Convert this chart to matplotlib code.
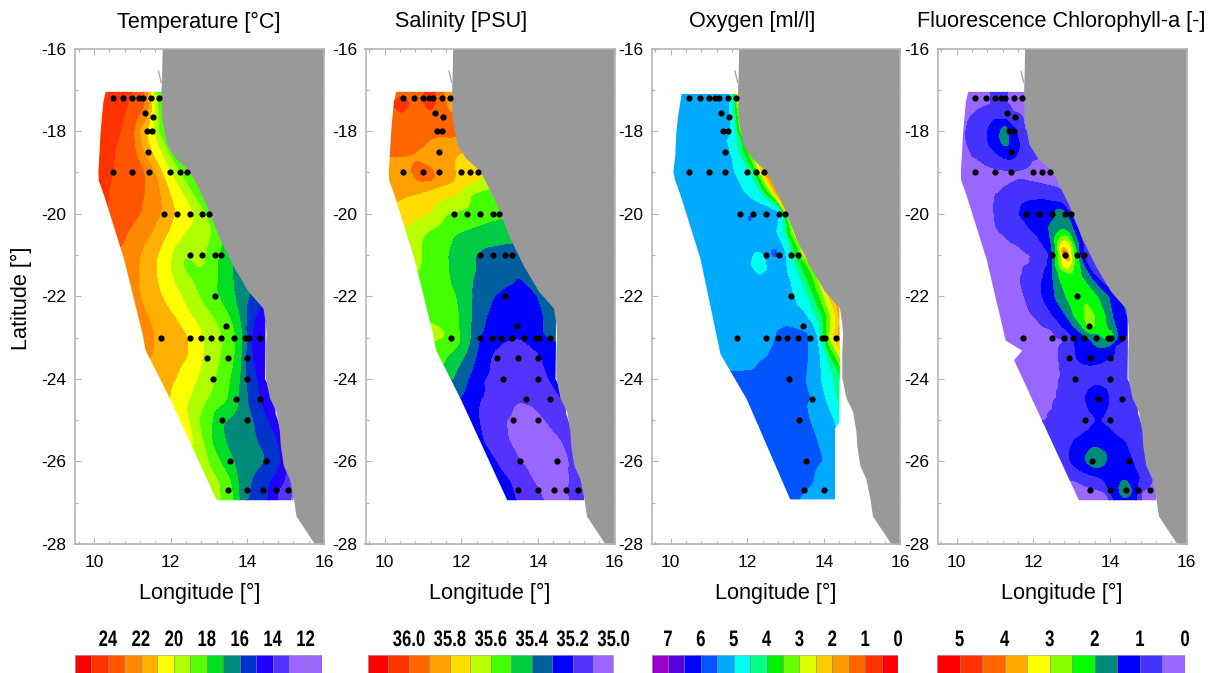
import numpy as np
import matplotlib
matplotlib.use("Agg")
import matplotlib.pyplot as plt
from matplotlib.patches import Polygon
from matplotlib.patheffects import AbstractPathEffect
from matplotlib.transforms import Affine2D
from matplotlib.ticker import MultipleLocator

W, H = 1211, 673
TITLES = ["Temperature [°C]", "Salinity [PSU]", "Oxygen [ml/l]", "Fluorescence Chlorophyll-a [-]"]
TITLE_X = [199, 461, 752, 1061]
PANEL_L = [75, 365.5, 651.5, 937.5]

# stations
STN_LON = [10.48,10.76,10.99,11.17,11.27,11.49,11.7,11.32,11.53,11.37,11.5,11.41,10.48,10.99,11.42,11.98,12.23,12.43,
           11.82,12.16,12.49,12.82,12.99,12.49,12.82,13.15,13.32,13.15,13.45,
           11.74,12.49,12.79,13.04,13.32,13.65,13.94,14.04,14.32,12.94,13.49,13.99,13.1,13.99,13.69,14.32,13.34,13.99,13.54,14.49,
           13.49,13.99,14.41,14.74,15.05]
STN_LAT = [-17.2]*7 + [-17.55,-17.65,-18,-18,-18.5] + [-19]*6 + [-20]*5 + [-21]*4 + [-22,-22.72] + [-23]*9 + [-23.5]*3 + [-24]*2 + [-24.5]*2 + [-25]*2 + [-26]*2 + [-26.7]*5
OXY_SKIP = [(12.94,-23.5),(13.49,-23.5),(13.99,-23.5),(13.99,-24),(14.32,-24.5),(13.99,-25),(14.49,-26),(14.41,-26.7),(14.74,-26.7),(15.05,-26.7)]

# land
COAST_LON = [11.79,11.77,11.76,11.77,11.9,12.12,12.47,12.6,12.94,13.29,13.64,14.03,14.42,14.48,14.5,14.48,14.48,14.59,14.76,14.85,14.87,14.95,15.11,15.22,15.28,15.63,15.76,16,16]
COAST_LAT = [-16,-16.78,-17.05,-17.68,-18.33,-18.66,-18.95,-19.15,-19.8,-20.62,-21.28,-21.89,-22.3,-22.67,-22.91,-23.4,-23.98,-24.47,-24.8,-25.29,-25.62,-26.11,-26.43,-26.94,-27.33,-27.82,-28,-28,-16]

# gridded area outlines
AREA_LON = [10.3,11.9,13.0,14.6,14.47,14.47,14.46,14.7,14.74,14.9,15.3,15.2,13.2,11.99,11.34,11.26,10.78,10.26,10.12,10.11,10.17,10.24]
AREA_LAT = [-17.05,-17.05,-19.5,-22.2,-22.65,-23.2,-24.0,-24.45,-24.85,-25.3,-26.5,-26.94,-26.94,-24.5,-23.3,-22.9,-21.1,-19.56,-19.2,-19,-18,-17.3]
OXY_LON = [10.29,11.9,13.0,14.4,14.42,14.4,14.29,14.29,13.12,11.99,11.3,10.78,10.26,10.12,10.07,10.12,10.15,10.2]
OXY_LAT = [-17.1,-17.1,-19.5,-22.3,-23.4,-25.05,-25.2,-26.92,-26.92,-24.5,-23.4,-21.1,-19.56,-19.2,-19,-18.6,-18,-17.6]
CHL_LON = [10.3,11.9,13.0,14.6,14.47,14.47,14.46,14.7,14.74,14.9,15.3,15.2,13.19,11.5,11.71,11.28,10.78,10.26,10.12,10.11,10.17,10.24]
CHL_LAT = [-17.05,-17.05,-19.5,-22.2,-22.65,-23.2,-24.0,-24.45,-24.85,-25.3,-26.5,-26.94,-26.94,-23.55,-23.32,-23.07,-21.1,-19.56,-19.2,-19,-18,-17.3]

# along-coast frame in which readings are joined
FRAME_LAT = [-16.5,-17,-18,-19,-20,-21,-22,-23,-24,-25,-26,-27,-27.5]
FRAME_W = [10,10,10,10,10.3,10.6,11,11.2,11.7,12.3,12.8,13.1,13.4]
FRAME_E = [11.9,11.9,11.9,12.5,13.1,13.7,14.4,14.6,14.6,14.85,15,15.25,15.4]

# Readings along parallels: (longitude, value)
TEMP_LAT = [-17,-17.5,-18,-18.5,-19,-19.5,-20,-20.5,-20.8,-21,-21.3,-21.6,-22,-22.5,-23,-23.5,-24,-24.5,-25,-25.5,-26,-26.5,-27]
TEMP_ROWS = [
 [(10.2,24.6),(11.08,24),(11.3,23),(11.4,22),(11.45,21),(11.56,20),(11.62,19),(11.73,18)],
 [(10.2,24.8),(10.85,24),(11.35,23),(11.42,22),(11.5,21),(11.58,20),(11.68,19),(11.75,18)],
 [(10.17,24.8),(10.72,24),(11.05,23),(11.16,22),(11.32,21),(11.52,20),(11.7,19),(11.8,18)],
 [(10.2,24.6),(10.52,24),(11.08,23),(11.25,22),(11.47,21),(11.73,20),(11.9,19),(12.05,18)],
 [(10.1,24.4),(10.48,24),(11.4,23),(11.6,22),(11.77,21),(12.0,20),(12.25,19),(12.47,18)],
 [(10.2,24.2),(10.35,24),(11.35,23),(11.72,22),(11.95,21),(12.3,20),(12.55,19),(12.8,18)],
 [(10.5,23.9),(11.25,23),(11.78,22),(12.12,21),(12.64,20),(12.9,19),(13.16,18)],
 [(10.6,23.5),(10.85,23),(11.5,22),(11.9,21),(12.25,20),(13.1,19),(13.4,18)],
 [(10.68,23),(11.3,22),(11.75,21),(12.1,20),(12.45,19.6),(13.05,19),(13.3,18),(13.6,17)],
 [(10.7,22.8),(11.21,22),(11.65,21),(12.03,20),(12.28,19),(12.42,18.7),(12.55,19),(12.75,19.3),(12.94,19),(13.2,18),(13.6,17),(14,16.3)],
 [(10.8,22.6),(11.17,22),(11.62,21),(11.95,20),(12.27,19),(12.42,18.5),(12.58,19),(12.75,19.2),(12.95,19),(13.2,18),(13.6,17),(14,16.3)],
 [(10.9,22.3),(11.2,22),(11.63,21),(12.05,20),(12.62,19),(13.2,18),(13.62,17),(14,16.2)],
 [(11.0,22.2),(11.19,22),(11.73,21),(12.25,20),(12.68,19),(13.2,18),(13.64,17),(14.07,16),(14.3,15.2)],
 [(11.1,22.3),(11.45,22),(12.12,21),(12.55,20),(13.12,19),(13.55,18),(13.81,17),(14.0,16),(14.1,15),(14.5,14.5)],
 [(11.2,22.4),(11.6,22),(12.55,21),(12.86,20),(13.38,19),(13.72,18),(13.9,17),(13.97,16),(14.03,15),(14.5,14.3)],
 [(11.3,22.2),(12.47,21),(12.81,20),(13.29,19),(13.66,18),(13.85,17),(13.94,16),(14.08,15),(14.6,14.2)],
 [(11.6,21.6),(12.16,21),(12.68,20),(13.16,19),(13.57,18),(13.81,17),(13.94,16),(14.24,15),(14.6,14.1)],
 [(11.99,21),(12.47,20),(12.99,19),(13.5,18),(13.76,17),(13.94,16),(14.33,15),(14.59,14),(14.72,13.5)],
 [(12.3,20.5),(12.45,20),(12.73,19),(13.07,18),(13.29,17),(14.16,16),(14.5,15),(14.85,14.5)],
 [(12.55,20.2),(12.85,19),(13.05,18),(13.38,17),(14.24,16),(14.76,15),(15,14.5)],
 [(12.85,19.3),(12.94,19),(13.25,18),(13.63,17),(14.59,16),(14.89,15),(15.0,14.6)],
 [(13.05,19.5),(13.3,19),(13.6,18),(13.78,17),(14.07,16),(14.55,15),(14.95,14),(15.1,13)],
 [(13.2,19.8),(13.29,19),(13.64,18),(13.81,17),(13.87,16),(14.3,15.5),(14.55,15),(14.76,14),(14.95,13),(15.2,12.8)],
]

SAL_LAT = [-17,-17.2,-17.35,-17.5,-17.7,-18,-18.2,-18.5,-18.7,-18.85,-19,-19.12,-19.25,-19.5,-20,-20.5,-20.75,-21,-21.6,-22,-22.5,-22.8,-22.95,-23.05,-23.3,-23.5,-24,-24.5,-24.6,-25,-25.5,-26,-26.5,-26.95]
SAL_ROWS = [
 [(10.3,35.93),(10.95,35.97),(11.2,36.02),(11.4,35.97),(11.47,35.9),(11.7,35.85),(11.75,35.8)],
 [(10.3,35.98),(10.43,36.03),(10.6,35.98),(10.9,35.96),(11.0,36.0),(11.18,36.08),(11.35,36.0),(11.6,35.9),(11.75,35.85)],
 [(10.3,36.03),(10.43,36.1),(10.58,36.03),(10.9,35.96),(11.08,36.02),(11.18,36.07),(11.32,36.0),(11.6,35.9),(11.75,35.85)],
 [(10.3,35.98),(10.43,36.01),(10.6,35.97),(11,35.95),(11.2,35.99),(11.35,35.96),(11.7,35.9)],
 [(10.3,35.96),(11,35.95),(11.7,35.91)],
 [(10.2,35.95),(11,35.94),(11.7,35.92)],
 [(10.9,35.93),(11.15,35.9),(11.55,35.88),(11.72,35.9),(11.95,35.89)],
 [(10.2,35.93),(10.78,35.9),(11.5,35.85),(12.0,35.8),(12.2,35.78)],
 [(10.15,35.88),(10.8,35.89),(11.5,35.85),(11.78,35.8),(12.2,35.76)],
 [(10.15,35.87),(10.78,35.9),(10.88,35.93),(11.05,35.9),(11.5,35.85),(11.82,35.8),(12.4,35.73)],
 [(10.2,35.86),(10.72,35.9),(10.9,35.97),(11.15,35.96),(11.3,35.9),(11.5,35.86),(11.85,35.8),(12.55,35.7)],
 [(10.2,35.85),(10.75,35.89),(10.9,35.97),(11.2,35.97),(11.35,35.89),(11.85,35.8),(12.5,35.7)],
 [(10.2,35.85),(11,35.87),(11.8,35.8),(12.45,35.7),(12.8,35.65)],
 [(10.3,35.82),(10.9,35.8),(11.95,35.7),(12.2,35.6),(13,35.52)],
 [(10.3,35.78),(11.2,35.7),(11.6,35.6),(12.6,35.54),(13.1,35.52)],
 [(10.55,35.68),(11.0,35.6),(11.8,35.5),(12.5,35.46),(13.25,35.42)],
 [(10.7,35.65),(10.95,35.6),(11.72,35.5),(12.5,35.41),(13.3,35.4)],
 [(10.75,35.65),(10.95,35.6),(11.65,35.5),(12.35,35.4),(13.4,35.33)],
 [(10.9,35.58),(11.7,35.5),(12.3,35.4),(13.3,35.31),(13.5,35.29),(13.7,35.31),(14,35.32)],
 [(11,35.58),(11.88,35.5),(12.27,35.4),(12.82,35.3),(13.4,35.25),(14.0,35.3),(14.3,35.33)],
 [(11.2,35.57),(11.98,35.5),(12.25,35.4),(12.62,35.3),(13.4,35.22),(14.17,35.3),(14.45,35.35)],
 [(11.25,35.63),(11.5,35.6),(11.95,35.5),(12.25,35.4),(12.55,35.3),(13.4,35.21),(14.15,35.3),(14.45,35.35)],
 [(11.28,35.65),(11.72,35.6),(11.95,35.5),(12.25,35.4),(12.45,35.3),(13.4,35.21),(14.15,35.3),(14.4,35.35)],
 [(11.3,35.6),(11.85,35.55),(12.0,35.5),(12.25,35.4),(12.45,35.3),(13.1,35.2),(13.6,35.19),(14.1,35.27),(14.4,35.3)],
 [(11.35,35.57),(11.85,35.5),(12.15,35.4),(12.4,35.3),(12.8,35.2),(13.4,35.16),(14.0,35.2),(14.45,35.27)],
 [(11.4,35.55),(11.6,35.5),(12.05,35.4),(12.37,35.3),(12.72,35.2),(13.4,35.15),(14.13,35.2),(14.5,35.27)],
 [(11.7,35.42),(12.18,35.3),(12.55,35.2),(13.4,35.14),(14.33,35.2),(14.5,35.25)],
 [(11.99,35.29),(12.47,35.2),(13.5,35.11),(14.6,35.19),(14.7,35.22)],
 [(12.0,35.28),(12.45,35.2),(13.35,35.1),(13.55,35.09),(13.85,35.1),(14.6,35.17)],
 [(12.2,35.25),(12.45,35.2),(13.13,35.1),(13.8,35.07),(14.2,35.1),(14.8,35.15)],
 [(12.5,35.21),(13.2,35.1),(14.0,35.06),(14.65,35.1),(15,35.13)],
 [(12.85,35.21),(12.9,35.2),(13.52,35.1),(14.2,35.06),(14.85,35.1),(15.0,35.12)],
 [(13.1,35.22),(13.3,35.2),(13.87,35.1),(14.35,35.08),(14.85,35.1),(15.2,35.17)],
 [(13.2,35.25),(13.42,35.2),(14.13,35.1),(14.4,35.09),(14.85,35.1),(15.2,35.16)],
]

OXY_LAT_ROWS = [-17,-17.2,-17.5,-18,-18.5,-19,-19.5,-19.95,-20.1,-20.28,-20.5,-20.8,-21,-21.2,-21.45,-21.6,-22,-22.5,-22.7,-22.8,-23,-23.5,-23.8,-24,-24.5,-25,-25.3,-26,-26.5,-26.95]
OXY_ROWS = [
 [(10,5.3),(10.6,5.45),(10.8,5.6),(11.0,5.45),(11.45,5.05),(11.51,5),(11.58,4.5),(11.62,4),(11.66,3),(11.72,2.3)],
 [(10,5.3),(11.45,5.1),(11.52,5),(11.6,4.5),(11.66,4),(11.7,3),(11.74,2.5)],
 [(10,5.3),(11.48,5.1),(11.53,5),(11.62,4.5),(11.72,3.5),(11.75,3.0)],
 [(10,5.3),(11.5,5.1),(11.57,5.0),(11.68,4.5),(11.76,3.7),(11.8,3.3)],
 [(10,5.3),(11.5,5.1),(11.52,5),(11.75,4.5),(11.85,4),(12.0,3.5),(12.05,3)],
 [(10,5.3),(11.6,5.05),(11.64,5),(12.05,4.5),(12.15,4),(12.22,3.5),(12.3,3),(12.35,2.5),(12.42,2),(12.5,1.5),(12.55,1.2)],
 [(10,5.3),(11.85,5.1),(11.9,5),(12.35,4.5),(12.42,4),(12.5,3.5),(12.6,3),(12.65,2.5),(12.72,2),(12.8,1.5)],
 [(10,5.3),(12.0,5.3),(12.1,5.45),(12.2,5.3),(12.82,5.1),(12.86,5),(12.9,4),(12.94,3),(13.0,2.3),(13.07,1.5)],
 [(10,5.3),(11.95,5.4),(12.07,5.7),(12.17,5.4),(12.75,5.15),(12.85,5),(12.95,4.3),(13.0,3.5),(13.08,2.5),(13.15,1.6)],
 [(10,5.3),(12.0,5.3),(12.07,5.45),(12.15,5.3),(12.72,5.15),(12.8,5),(12.97,4.4),(13.04,3.8),(13.1,3.2),(13.2,2.4),(13.28,1.7)],
 [(10,5.3),(12.7,5.1),(12.75,5),(12.95,4.5),(13.02,4),(13.1,3.5),(13.18,3),(13.25,2.5),(13.3,2),(13.38,1.6)],
 [(10,5.3),(12.65,5.4),(12.72,5.6),(12.8,5.4),(12.9,5.05),(12.95,5),(13.1,4.5),(13.17,4),(13.3,3.5),(13.38,3),(13.48,2.5)],
 [(10,5.3),(12.05,5.2),(12.12,5.0),(12.3,4.6),(12.5,5.0),(12.58,5.4),(12.72,5.7),(12.85,5.4),(12.99,5),(13.12,4.5),(13.2,4),(13.35,3.5),(13.4,3),(13.5,2.5),(13.6,2.2)],
 [(10,5.3),(12.08,5),(12.3,4.5),(12.5,5),(12.6,5.3),(12.9,5.2),(13.0,5),(13.2,4.5),(13.35,4),(13.5,3.5),(13.6,3),(13.7,2.6)],
 [(10,5.3),(12.1,5.1),(12.3,4.9),(12.48,5.1),(13.0,5.1),(13.03,5),(13.3,4.5),(13.45,4),(13.65,3.5),(13.75,3),(13.85,2.7)],
 [(10,5.3),(13.05,5.1),(13.1,5),(13.38,4.5),(13.55,4),(13.72,3.5),(13.82,3),(13.95,2.6)],
 [(10,5.3),(13.15,5.1),(13.2,5),(13.55,4.5),(13.7,4),(13.85,3.5),(13.95,3),(14.1,2.5),(14.22,2)],
 [(10,5.3),(13.5,5.1),(13.55,5),(13.75,4.5),(13.95,4),(14.05,3.5),(14.15,3),(14.3,2.5),(14.35,2),(14.4,1.8)],
 [(10,5.3),(12.85,5.45),(13.0,5.52),(13.2,5.45),(13.7,5.1),(13.72,5),(13.85,4.5),(13.97,4),(14.05,3.5),(14.15,3),(14.28,2.5),(14.35,2),(14.42,1.8)],
 [(10,5.3),(12.4,5.3),(12.78,5.5),(13.1,5.55),(13.52,5.5),(13.72,5.1),(13.75,5),(13.87,4.5),(13.97,4),(14.05,3.5),(14.15,3),(14.28,2.5),(14.35,2),(14.42,1.8)],
 [(11,5.3),(12.5,5.4),(12.73,5.5),(13.2,5.6),(13.68,5.5),(13.82,5),(13.9,4.5),(13.97,4),(14.05,3.5),(14.1,3),(14.2,2.5),(14.3,2),(14.42,1.7)],
 [(11,5.35),(12.51,5.5),(13.1,5.7),(13.6,5.5),(13.9,5),(14.08,4.5),(14.15,4),(14.25,3.7),(14.34,3.2),(14.42,2.9)],
 [(11.7,5.48),(12.2,5.5),(13.1,5.7),(13.57,5.5),(13.9,5),(14.2,4.5),(14.35,4),(14.45,3.4)],
 [(11.7,5.6),(13.55,5.5),(13.9,5),(14.25,4.5),(14.42,4)],
 [(11.9,5.7),(13.68,5.5),(14.03,5),(14.34,4.5),(14.4,4.2)],
 [(12.3,5.7),(13.64,5.5),(14.25,5),(14.4,4.6)],
 [(12.5,5.7),(13.77,5.5),(14.28,5.05),(14.4,5)],
 [(12.8,5.7),(13.99,5.5),(14.3,5.2)],
 [(13,5.7),(13.73,5.5),(14.3,5.2)],
 [(13.1,5.6),(13.3,5.5),(14.3,5.2)],
]

CHL_LAT_ROWS = [-17,-17.2,-17.4,-17.6,-18,-18.2,-18.35,-18.7,-19,-19.35,-19.5,-19.75,-20,-20.35,-20.5,-20.75,-21,-21.25,-21.5,-22,-22.5,-22.75,-23,-23.15,-23.5,-23.6,-24,-24.25,-24.5,-24.75,-25,-25.25,-25.5,-25.8,-26,-26.2,-26.45,-26.7,-26.85,-26.95]
CHL_ROWS = [
 [(10.89,.5),(11.1,.6),(11.32,.5)],
 [(10.89,.5),(11.1,.62),(11.32,.5)],
 [(10.95,.5),(11.12,.56),(11.3,.5)],
 [(10.45,.5),(11.0,.9),(11.45,.5)],
 [(10.25,.5),(10.8,1),(11.1,1.4),(11.15,1.5),(11.25,1.9),(11.35,1.5),(11.55,1),(11.75,.5)],
 [(10.25,.5),(10.8,1),(11.13,1.5),(11.25,2),(11.35,1.5),(11.6,1),(11.95,.5)],
 [(10.3,.5),(10.85,1),(11.15,1.4),(11.25,1.5),(11.4,1.4),(11.65,1),(12,.5)],
 [(10.6,.5),(11.25,.95),(11.4,1),(11.55,.9),(11.95,.5)],
 [(10.1,.3),(11.5,.42),(12.4,.3)],
 [(11.3,.5),(11.8,.6),(12.6,.5)],
 [(11.15,.5),(11.8,.75),(12.8,.5)],
 [(11.0,.5),(11.67,1),(12.3,1.2),(12.75,1),(13,.5)],
 [(11,.5),(11.58,1),(12.5,1.3),(12.55,1.5),(12.75,1.9),(12.85,1.6),(12.95,1),(13.2,.5)],
 [(11.05,.5),(11.9,1),(12.4,1.5),(12.75,1.9),(13.05,1.5),(13.15,1),(13.35,.5)],
 [(11.25,.5),(12.1,1),(12.45,1.5),(12.62,2),(12.85,2.5),(12.95,2),(13.1,1.5),(13.2,1),(13.4,.5)],
 [(11.6,.5),(12.25,1),(12.5,1.5),(12.58,2),(12.65,2.6),(12.72,3),(12.85,3.6),(12.97,3),(13.03,2.5),(13.1,1.8),(13.2,1.5),(13.3,1),(13.45,.5)],
 [(12.2,.5),(12.45,1),(12.52,1.5),(12.6,2),(12.65,2.5),(12.72,3),(12.8,4),(12.85,5.6),(12.9,4),(12.98,3),(13.05,2.5),(13.15,2),(13.2,1.5),(13.3,1),(13.5,.5)],
 [(11.95,.5),(12.4,1),(12.5,1.5),(12.57,2),(12.66,2.6),(12.75,3),(12.85,3.5),(12.95,3),(13.0,2.5),(13.2,2),(13.32,1.5),(13.42,1),(13.55,.5)],
 [(11.75,.5),(12.28,1),(12.5,1.5),(12.63,2),(12.9,2.3),(13.25,2),(13.47,1.5),(13.6,1),(13.8,.5)],
 [(11.8,.5),(12.23,1),(12.54,1.5),(12.83,2),(13.25,2.4),(13.67,2),(13.97,1.5),(14.28,1),(14.5,.5)],
 [(12.1,.5),(12.54,1),(12.89,1.5),(13.06,2),(13.3,2.4),(13.35,2.5),(13.45,2.9),(13.6,2.5),(13.65,2.4),(13.89,2),(14.06,1.5),(14.41,1)],
 [(12.5,.5),(12.76,1),(13.1,1.5),(13.28,2),(13.45,2.7),(13.8,2.2),(13.9,2),(14.15,1.5),(14.4,1)],
 [(12.84,.5),(13.06,1),(13.5,1.5),(13.7,1.7),(13.8,2),(14.05,2.4),(14.12,2),(14.2,1.5),(14.4,1)],
 [(12.88,.5),(13.06,1),(13.55,1.5),(13.8,1.7),(14.05,1.5),(14.1,1),(14.5,.75)],
 [(12.71,.5),(13.1,1),(13.5,1.2),(14.06,1),(14.45,.5)],
 [(12.71,.5),(13.2,1),(13.4,1.05),(13.8,1),(14.45,.5)],
 [(12.75,.5),(13.6,.8),(14.5,.5)],
 [(12.7,.5),(13.45,1),(13.7,1.15),(13.93,1),(14.55,.5)],
 [(12.67,.5),(13.35,1),(13.7,1.3),(13.97,1),(14.65,.5)],
 [(12.55,.5),(13.45,1),(13.7,1.15),(13.9,1),(14.72,.5)],
 [(12.4,.5),(13.65,.98),(13.7,1.02),(13.75,.98),(14.85,.5)],
 [(12.4,.6),(13.45,1),(13.7,1.15),(14.05,1),(14.9,.6)],
 [(12.6,.6),(13.06,1),(13.5,1.2),(14.4,1),(14.95,.7)],
 [(12.8,.8),(12.93,1),(13.35,1.45),(13.4,1.5),(13.65,1.8),(13.92,1.5),(14.05,1.4),(14.5,1),(15,.7)],
 [(12.9,.9),(12.95,1),(13.35,1.5),(13.63,1.9),(13.9,1.5),(14.6,1),(15,.6)],
 [(12.95,.7),(13.18,1),(13.6,1.4),(14.2,1.2),(14.67,1),(14.95,.7)],
 [(13.1,.5),(13.7,.8),(13.83,1),(14.4,1.5),(14.8,1),(15.1,.5)],
 [(13.3,.4),(13.9,.5),(13.95,1),(14.23,1.5),(14.4,2),(14.58,1.5),(14.72,1),(14.8,.5),(15.2,.3)],
 [(13.3,.4),(14.0,.5),(14.05,1),(14.3,1.45),(14.4,1.55),(14.52,1.45),(14.72,1),(14.8,.5),(15.2,.3)],
 [(13.2,.3),(14.02,.5),(14.06,.9),(14.4,1.4),(14.72,.9),(14.78,.5),(15.2,.3)],
]

# colour classes, listed from the high end of each scale bar
TEMP_EDGES = [26,25,24,23,22,21,20,19,18,17,16,15,14,13,12,11]
TEMP_COLORS = ["#ff0000","#ff3300","#ff5500","#ff8800","#ffb000","#ffff00","#b0ff00","#55ff00","#00dd22","#008a7a","#0033cc","#2200ff","#5533ff","#9966ff","#9966ff"]
SAL_EDGES = [36.2,36.1,36.0,35.9,35.8,35.7,35.6,35.5,35.4,35.3,35.2,35.1,35.0]
SAL_COLORS = ["#ff0000","#ff3300","#ff6600","#ffa000","#ffdd00","#b8ff00","#44ff00","#00cc44","#005f9f","#0000ff","#5533ff","#9966ff"]
OXY_EDGES = [7.5,7,6.5,6,5.5,5,4.5,4,3.5,3,2.5,2,1.5,1,.5,0]
OXY_COLORS = ["#9900cc","#5500dd","#0000ff","#0055ff","#00aaff","#00ffee","#00ff88","#00ee00","#66ff00","#ddff00","#ffcc00","#ff9900","#ff6600","#ff3300","#ff0000"]
CHL_EDGES = [5.5,5,4.5,4,3.5,3,2.5,2,1.5,1,.5,0]
CHL_COLORS = ["#ff0000","#ff3300","#ff6600","#ffaa00","#ffff00","#88ff00","#00ff00","#008a7a","#0000ff","#4433ff","#9966ff"]

TEMP_TICKS = [24,22,20,18,16,14,12]
SAL_TICKS = [36.0,35.8,35.6,35.4,35.2,35.0]
OXY_TICKS = [7,6,5,4,3,2,1,0]
CHL_TICKS = [5,4,3,2,1,0]
BAR_X = [(75,322),(368,613.5),(651.5,898),(937,1185)]

plt.rcParams["font.family"] = ["Liberation Sans", "DejaVu Sans"]
plt.rcParams["axes.unicode_minus"] = False
fig = plt.figure(figsize=(W/100, H/100), dpi=100)


class TallGlyphs(AbstractPathEffect):
    """Stretches glyphs upward from their baseline (the bar labels are condensed)."""
    def __init__(self, factor):
        super().__init__()
        self.factor = factor

    def draw_path(self, renderer, gc, tpath, affine, rgbFace=None):
        renderer.draw_path(gc, tpath, Affine2D().scale(1, self.factor) + affine, rgbFace)


def gauss(a, sigma, axis):
    n = int(3*sigma)+1
    k = np.exp(-0.5*(np.arange(-n,n+1)/sigma)**2); k /= k.sum()
    return np.apply_along_axis(lambda v: np.convolve(np.pad(v,n,mode="edge"),k,mode="valid"),axis,a)


def field(lats, rows, add_ends=None, sig_lat=0.1, sig_s=0.012):
    frame_lat = np.array(FRAME_LAT)[::-1]
    fw, fe = np.array(FRAME_W)[::-1], np.array(FRAME_E)[::-1]
    sg = np.linspace(-0.15,1.2,340)
    lg = np.linspace(-27.4,-16.7,642)
    prof = []
    for la,r in zip(lats,rows):
        r = list(r)
        if add_ends is not None:
            r = [(9.0,add_ends)] + r + [(16.8,add_ends)]
        lon = np.array([p[0] for p in r]); val = np.array([p[1] for p in r])
        w,e = np.interp(la,frame_lat,fw), np.interp(la,frame_lat,fe)
        prof.append(np.interp(sg,(lon-w)/(e-w),val))
    prof = np.array(prof)[::-1]
    la = np.array(lats)[::-1]
    Z = np.array([np.interp(lg,la,prof[:,j]) for j in range(len(sg))]).T
    dl = lg[1]-lg[0]
    Z = gauss(Z,sig_lat/dl,0)
    Z = gauss(Z,sig_s/(sg[1]-sg[0]),1)
    w = np.interp(lg,frame_lat,fw); e = np.interp(lg,frame_lat,fe)
    X = w[:,None]+sg[None,:]*(e-w)[:,None]
    Y = np.repeat(lg[:,None],len(sg),axis=1)
    return X,Y,Z


PANELS = [
 (TEMP_LAT,TEMP_ROWS,TEMP_EDGES,TEMP_COLORS,TEMP_TICKS,"{:d}",AREA_LON,AREA_LAT,None,0.16,0.022),
 (SAL_LAT,SAL_ROWS,SAL_EDGES,SAL_COLORS,SAL_TICKS,"{:.1f}",AREA_LON,AREA_LAT,None,0.09,0.02),
 (OXY_LAT_ROWS,OXY_ROWS,OXY_EDGES,OXY_COLORS,OXY_TICKS,"{:d}",OXY_LON,OXY_LAT,None,0.07,0.012),
 (CHL_LAT_ROWS,CHL_ROWS,CHL_EDGES,CHL_COLORS,CHL_TICKS,"{:d}",CHL_LON,CHL_LAT,0.2,0.06,0.012),
]
SPINE = "#b4b4b4"
for i,(lats,rows,edges,cols,ticks,fmt,alon,alat,ends,sg,ss) in enumerate(PANELS):
    l = PANEL_L[i]
    ax = fig.add_axes([l/W,1-544/H,249/W,(544-48.5)/H])
    ax.set_xlim(9.5,16); ax.set_ylim(-28,-16)
    X,Y,Z = field(lats,rows,ends,sig_lat=sg,sig_s=ss)
    lv = np.array(edges[::-1],float)
    lv[0] = -1e3; lv[-1] = 1e3
    cs = ax.contourf(X,Y,Z,levels=lv,colors=cols[::-1],zorder=1)
    cs.set_clip_path(Polygon(np.c_[alon,alat],closed=True,transform=ax.transData))
    ax.fill(COAST_LON,COAST_LAT,color="#999999",lw=0,zorder=2)
    ax.plot([11.68,11.75],[-16.55,-16.82],color="#aaaaaa",lw=1,zorder=2)
    sx,sy = np.array(STN_LON),np.array(STN_LAT)
    if i==2:
        keep = [(a,b) not in OXY_SKIP for a,b in zip(STN_LON,STN_LAT)]
        sx,sy = sx[keep],sy[keep]
    ax.scatter(sx,sy,s=20,color="k",lw=0,zorder=3)
    ax.set_xticks([10,12,14,16]); ax.set_yticks(range(-28,-15,2))
    ax.xaxis.set_minor_locator(MultipleLocator(0.4))
    ax.yaxis.set_minor_locator(MultipleLocator(1))
    ax.tick_params(which="both",direction="in",top=True,right=True,color=SPINE,width=0.8)
    ax.tick_params(which="major",length=4,labelsize=12.5)
    ax.tick_params(which="minor",length=2.5)
    ax.tick_params(axis="x",which="major",pad=8)
    ax.tick_params(axis="y",which="major",pad=6)
    for sp in ax.spines.values():
        sp.set_color(SPINE); sp.set_linewidth(1.2)
    fig.text(TITLE_X[i]/W,1-22/H,TITLES[i],ha="center",va="center",fontsize=15.6)
    fig.text((l+124.5)/W,1-593/H,"Longitude [°]",ha="center",va="center",fontsize=15.6)
    # scale bar
    x0,x1 = BAR_X[i]
    cax = fig.add_axes([x0/W,-10/H,(x1-x0)/W,28/H])
    cax.set_xlim(edges[0],edges[-1]); cax.set_ylim(0,1); cax.axis("off")
    e = np.array(edges,float)
    cax.bar(e[:-1],1,width=e[1:]-e[:-1],align="edge",color=cols,edgecolor="#77777780",linewidth=0.6)
    for t in ticks:
        cax.text(t,1.32,fmt.format(t),ha="center",va="baseline",fontsize=12,weight="bold",clip_on=False,
                 path_effects=[TallGlyphs(1.35)])
fig.text(21/W,1-298/H,"Latitude [°]",rotation=90,ha="center",va="center",fontsize=15.6)
fig.savefig("out.png",dpi=100)
